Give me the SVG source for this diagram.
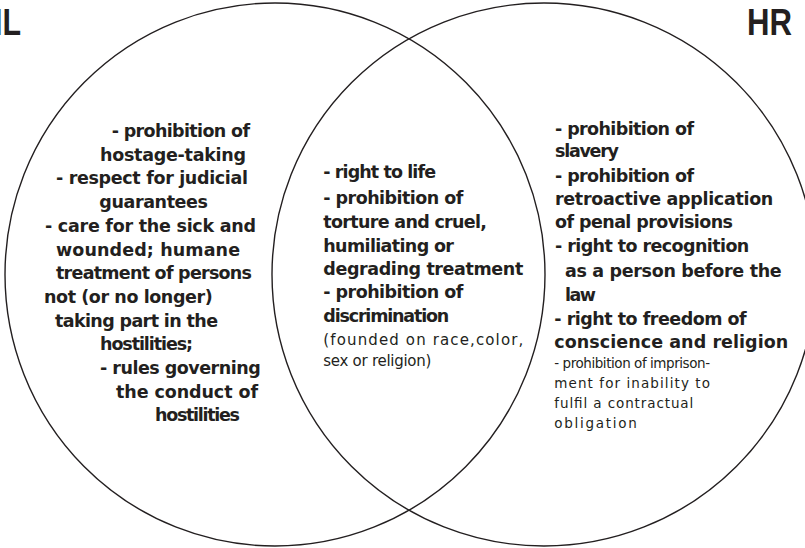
<svg xmlns="http://www.w3.org/2000/svg" width="805" height="548" viewBox="0 0 805 548">
<style>
.c{fill:none;stroke:#231f20;stroke-width:1.4}
.t{font-family:"DejaVu Sans",sans-serif;font-weight:bold;font-size:17.5px;fill:#231f20}
.r{font-family:"DejaVu Sans",sans-serif;font-size:13.5px;fill:#231f20}
.rc{font-family:"DejaVu Sans",sans-serif;font-size:15px;fill:#231f20}
.h{font-family:"Liberation Sans",sans-serif;font-weight:bold;font-size:37.5px;fill:#231f20}
</style>
<rect width="805" height="548" fill="#ffffff"/>
<g id="connectors"></g>
<g id="circle-il"><ellipse class="c" cx="275" cy="274.5" rx="270" ry="271.5"/></g>
<g id="circle-hr"><ellipse class="c" cx="544" cy="274.5" rx="272" ry="271.5"/></g>
<g id="label-il"><text class="h" x="-6" y="35" textLength="27" lengthAdjust="spacingAndGlyphs">IL</text></g>
<g id="label-hr"><text class="h" x="747" y="35" textLength="45" lengthAdjust="spacingAndGlyphs">HR</text></g>
<g id="il-only">
<text class="t" x="111.7" y="137" textLength="138.3">- prohibition of</text>
<text class="t" x="100" y="160.7" textLength="146">hostage-taking</text>
<text class="t" x="56" y="184.4" textLength="192">- respect for judicial</text>
<text class="t" x="99.3" y="208.1" textLength="108.7">guarantees</text>
<text class="t" x="45" y="231.8" textLength="211">- care for the sick and</text>
<text class="t" x="56" y="255.5" textLength="184">wounded; humane</text>
<text class="t" x="56" y="279.2" textLength="196">treatment of persons</text>
<text class="t" x="44" y="302.9" textLength="168.7">not (or no longer)</text>
<text class="t" x="55" y="326.6" textLength="163">taking part in the</text>
<text class="t" x="100" y="350.3" textLength="93">hostilities;</text>
<text class="t" x="100" y="374" textLength="160.7">- rules governing</text>
<text class="t" x="116" y="397.7" textLength="142">the conduct of</text>
<text class="t" x="155" y="421.4" textLength="85">hostilities</text>
</g>
<g id="both">
<text class="t" x="323.3" y="178.3" textLength="112.7">- right to life</text>
<text class="t" x="323.3" y="204" textLength="140">- prohibition of</text>
<text class="t" x="323.3" y="228.3" textLength="163.7">torture and cruel,</text>
<text class="t" x="323.3" y="251.7" textLength="130.7">humiliating or</text>
<text class="t" x="323.3" y="275" textLength="200">degrading treatment</text>
<text class="t" x="323.3" y="298.3" textLength="140">- prohibition of</text>
<text class="t" x="323.3" y="322" textLength="126">discrimination</text>
<text class="rc" x="323.3" y="345" textLength="200">(founded on race,color,</text>
<text class="rc" x="323.3" y="366" textLength="108">sex or religion)</text>
</g>
<g id="hr-only">
<text class="t" x="555" y="135" textLength="139">- prohibition of</text>
<text class="t" x="555" y="157.3" textLength="64">slavery</text>
<text class="t" x="555" y="181.7" textLength="139">- prohibition of</text>
<text class="t" x="555" y="205" textLength="218.3">retroactive application</text>
<text class="t" x="555" y="228.3" textLength="178">of penal provisions</text>
<text class="t" x="555" y="251.7" textLength="194.3">- right to recognition</text>
<text class="t" x="565" y="276.7" textLength="216.7">as a person before the</text>
<text class="t" x="565" y="300.7" textLength="31">law</text>
<text class="t" x="554.3" y="325" textLength="192.4">- right to freedom of</text>
<text class="t" x="554.3" y="348.3" textLength="234">conscience and religion</text>
<text class="r" x="554.3" y="368.3" textLength="155.7">- prohibition of imprison-</text>
<text class="r" x="554.3" y="388.3" textLength="155.7">ment for inability to</text>
<text class="r" x="554.3" y="408.3" textLength="139">fulfil a contractual</text>
<text class="r" x="554.3" y="428.3" textLength="82.4">obligation</text>
</g>
</svg>
